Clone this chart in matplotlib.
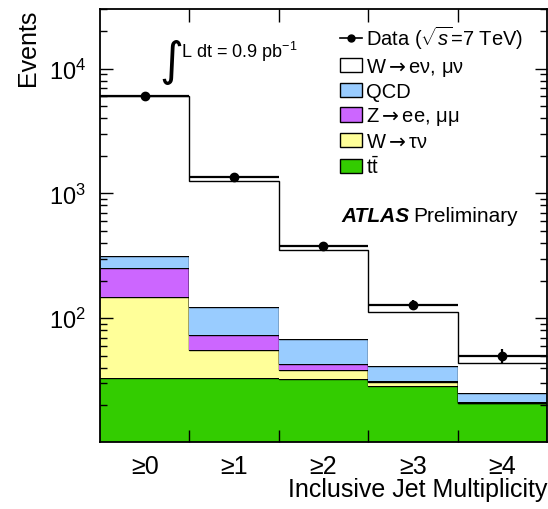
import numpy as np
import matplotlib
matplotlib.use("Agg")
import matplotlib.pyplot as plt
from matplotlib.patches import Patch
from matplotlib.lines import Line2D

plt.rcParams['font.family'] = ['Liberation Sans', 'DejaVu Sans']
plt.rcParams['mathtext.fontset'] = 'custom'
plt.rcParams['mathtext.rm'] = 'Liberation Sans'
plt.rcParams['mathtext.it'] = 'Liberation Sans:italic'
plt.rcParams['mathtext.sf'] = 'DejaVu Sans'

# bins and values
labels = ["≥0", "≥1", "≥2", "≥3", "≥4"]
data = np.array([6040, 1343, 382, 128, 50])
ttbar = np.array([33.5, 32.9, 32.3, 28.7, 20.9])
wtaunu = np.array([115.5, 22.9, 6.3, 1.9, 0.2])
zll = np.array([102, 17.7, 4.3, 0.9, 0.2])
qcd = np.array([64, 49.5, 25, 9.8, 4.0])
wlnu = np.array([5685, 1131, 284, 71, 18.4])

comps = [ttbar, wtaunu, zll, qcd, wlnu]
colors = ["#33cc00", "#ffff99", "#cc66ff", "#99ccff", "white"]
arrow = r"$\mathsf{\rightarrow}$"
names = [r"$\mathrm{t\bar{t}}$", "W" + arrow + "τν", "Z" + arrow + "ee, μμ",
         "QCD", "W" + arrow + "eν, μν"]

x = np.arange(len(labels))
edges = np.arange(len(labels) + 1) - 0.5
ymin = 10.2

fig = plt.figure(figsize=(5.48, 5.10), dpi=100)
ax = fig.add_axes([0.1825, 0.1314, 0.8155, 0.8490])
ax.set_yscale('log')

bottom = np.full(len(x), ymin)
for c, col in zip(comps, colors):
    top = bottom + c if bottom[0] != ymin else c.astype(float)
    ax.stairs(top, edges, baseline=bottom, fill=True, color=col, lw=0)
    ax.stairs(top, edges, baseline=None, color='black', lw=1.0)
    bottom = top

ax.errorbar(x, data, xerr=0.5, yerr=np.sqrt(data), fmt='o', color='black',
            ms=6, elinewidth=1.6, capsize=0)

ax.set_xlim(-0.5, 4.5)
ax.set_ylim(ymin, 3e4)

ax.set_xticks(x)
ax.set_xticklabels(labels, fontsize=18)
ax.set_xticks(edges[1:-1], minor=True)
ax.tick_params(axis='x', which='major', length=0, pad=9)
ax.tick_params(axis='x', which='minor', direction='in', length=9, width=1,
               top=True, bottom=True)
ax.tick_params(axis='y', which='major', direction='in', length=9, width=1,
               left=True, right=True, labelsize=17, pad=10)
ax.tick_params(axis='y', which='minor', direction='in', length=5, width=1,
               left=True, right=True)
for s in ax.spines.values():
    s.set_linewidth(1.3)

ax.set_ylabel("Events", fontsize=18, loc='top')
ax.yaxis.set_label_coords(-0.135, 1.0)
ax.set_xlabel("Inclusive Jet Multiplicity", fontsize=18, loc='right')
ax.xaxis.set_label_coords(1.0, -0.082)

fig.text(159 / 548, 1 - 75 / 510, "∫", fontsize=33, family='DejaVu Sans',
         ha='left', va='baseline')
fig.text(181 / 548, 1 - 58 / 510, r"L dt = 0.9 pb$^{-1}$", fontsize=13,
         ha='left', va='baseline')

fig.text(341 / 548, 1 - 222 / 510, "ATLAS", fontsize=15, weight='bold',
         style='italic', ha='left', va='baseline')
fig.text(413 / 548, 1 - 222 / 510, "Preliminary", fontsize=15,
         ha='left', va='baseline')

handles = [Line2D([], [], color='black', marker='o', ms=5, lw=1.2)]
handles += [Patch(facecolor=col, edgecolor='black', lw=1.0)
            for col in colors[::-1]]
leg_labels = [r"Data ($\sqrt{s}$=7 TeV)"] + names[::-1]
ax.legend(handles, leg_labels, loc='upper left',
          bbox_to_anchor=(340 / 548, 1 - 25 / 510),
          bbox_transform=fig.transFigure, frameon=False, fontsize=14.5,
          handlelength=1.1, handleheight=0.7, handletextpad=0.2,
          labelspacing=0.22, borderpad=0, borderaxespad=0)

fig.savefig("out.png", dpi=100)
